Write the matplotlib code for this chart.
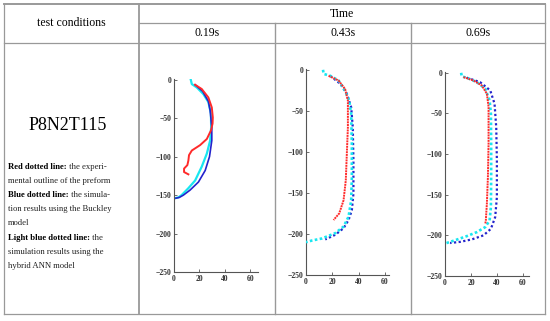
import matplotlib
matplotlib.use('Agg')
import matplotlib.pyplot as plt

# column headers
times = ['0.19s', '0.43s', '0.69s']
condition = 'P8N2T115'

# profile data (x = radius, y = height)
# 0.19 s
red_1_x = [16.6, 21.8, 27.0, 29.7, 30.5, 30.3, 29.0, 25.8, 20.5, 14.0, 11.8, 11.3, 10.5, 7.9, 7.9, 11.3]
red_1_y = [-6.5, -12, -23, -36, -49, -57, -66, -77, -85, -92, -98, -105, -111, -115.5, -120, -123]
blue_1_x = [16.6, 22.5, 27.0, 28.4, 29.7, 29.7, 27.9, 24.5, 19.2, 12.6, 7.4, 4.2, 1.5]
blue_1_y = [-6.5, -15, -28, -40, -62, -79, -100, -118, -133, -143.5, -150, -153, -154]
cyan_1_x = [13.2, 14.0, 17.9, 23.0, 27.0, 29.0, 29.2, 28.4, 25.8, 21.8, 16.6, 11.3, 6.0, 3.4, 0.8, 0.0]
cyan_1_y = [0, -5.6, -10, -18.5, -29, -44, -62, -79, -96, -113, -131, -141, -150, -153, -154, -154]
# 0.43 s
red_2_x = [17.1, 24.7, 29.7, 31.8, 31.8, 30.8, 30.2, 28.5, 25.2, 20.9]
red_2_y = [-7.3, -13, -23.5, -37.6, -70, -110, -134.7, -159, -175, -183]
blue_2_x = [18.4, 26.0, 31.0, 34.3, 35.5, 36.0, 36.0, 34.8, 32.3, 28.5, 22.2, 14.6]
blue_2_y = [-7.3, -17, -29, -45.7, -70, -110, -151, -171, -183, -193, -201, -206.7]
cyan_2_x = [12.9, 13.4, 18.4, 24.7, 29.7, 32.8, 34.3, 34.8, 34.8, 34.3, 32.3, 28.5, 22.2, 12.1, 4.5, 0.0]
cyan_2_y = [0, -5, -7.3, -13, -25.5, -37.6, -53.8, -90, -130.7, -159, -179, -191, -199, -205.5, -208, -210]
# 0.69 s
red_3_x = [14.2, 21.9, 28.3, 32.2, 33.5, 33.5, 33.0, 32.2, 31.4, 31.0]
red_3_y = [-5.3, -9.4, -15.6, -25.8, -42, -87, -128, -161, -181.6, -185.7]
blue_3_x = [16.7, 27.0, 34.8, 38.1, 39.4, 39.9, 39.9, 38.6, 35.3, 29.6, 20.6, 11.6, 3.9]
blue_3_y = [-6, -11.5, -21.7, -38, -67, -108, -153, -177.5, -192, -200, -205, -208, -209.4]
cyan_3_x = [12.4, 12.9, 16.7, 24.5, 31.0, 34.3, 35.3, 35.5, 35.5, 35.3, 34.3, 31.0, 24.5, 16.7, 7.7, 1.3, 0.0]
cyan_3_y = [0, -4.5, -6, -11.5, -19.7, -34, -50.4, -87, -128, -165, -181.6, -189.8, -196, -201, -206, -209.4, -210]

W, H = 550, 321
fig = plt.figure(figsize=(W / 100, H / 100), dpi=100)
fig.patch.set_facecolor('white')

# background axes in pixel coordinates for the table
ax0 = fig.add_axes([0, 0, 1, 1])
ax0.set_xlim(0, W)
ax0.set_ylim(H, 0)
ax0.axis('off')

lc = '#999999'
cols = [4, 139, 275, 411, 545]
top, mid, hdr, bot = 4, 23, 43, 314
ax0.plot([cols[0], cols[-1]], [top, top], color=lc, lw=1.4)
ax0.plot([cols[1], cols[-1]], [mid, mid], color=lc, lw=0.9)
ax0.plot([cols[0], cols[-1]], [hdr, hdr], color=lc, lw=0.9)
ax0.plot([cols[0], cols[-1]], [bot, bot], color=lc, lw=0.9)
ax0.plot([cols[0], cols[0]], [top, bot], color=lc, lw=0.9)
ax0.plot([cols[-1], cols[-1]], [top, bot], color=lc, lw=0.9)
ax0.plot([cols[1], cols[1]], [top, bot], color=lc, lw=1.3)
for c in cols[2:4]:
    ax0.plot([c, c], [mid, bot], color=lc, lw=1.0)

serif = 'Liberation Serif'
ax0.text((cols[0] + cols[1]) / 2, 23, 'test conditions', ha='center', va='center',
         fontsize=8.5, family=serif)
ax0.text((cols[1] + cols[-1]) / 2, 14, 'Time', ha='center', va='center',
         fontsize=8.5, family=serif)
for i, t in enumerate(times):
    ax0.text((cols[i + 1] + cols[i + 2]) / 2, 33, t, ha='center', va='center',
             fontsize=8.5, family=serif)

ax0.text(68, 125, condition, ha='center', va='center', fontsize=13, family=serif)

# legend description with bold lead-ins
desc = [
    ('Red dotted line:', ' the experi-'),
    ('', 'mental outline of the preform'),
    ('Blue dotted line:', ' the simula-'),
    ('', 'tion results using the Buckley'),
    ('', 'model'),
    ('Light blue dotted line:', ' the'),
    ('', 'simulation results using the'),
    ('', 'hybrid ANN model'),
]
line_y = [166.7, 180.7, 195, 209, 223.3, 237.7, 252, 266]
renderer = fig.canvas.get_renderer()
for (b, n), yy in zip(desc, line_y):
    x = 8
    if b:
        tb = ax0.text(x, yy, b, ha='left', va='center', fontsize=6.2,
                      family=serif, weight='bold')
        bb = tb.get_window_extent(renderer)
        x = ax0.transData.inverted().transform((bb.x1, bb.y0))[0]
    ax0.text(x, yy, n, ha='left', va='center', fontsize=6.2, family=serif,
             color='#222222')

red = '#ff2a2a'
blue = '#2323cc'
cyan = '#19e6f0'

panels = [
    # (left, right, top px, bottom px, xmax, data)
    (174, 258, 79, 272, 66, (red_1_x, red_1_y, blue_1_x, blue_1_y, cyan_1_x, cyan_1_y), True),
    (306, 389, 69, 275, 63, (red_2_x, red_2_y, blue_2_x, blue_2_y, cyan_2_x, cyan_2_y), False),
    (445, 529, 72, 276, 64.6, (red_3_x, red_3_y, blue_3_x, blue_3_y, cyan_3_x, cyan_3_y), False),
]

for l, r, t, b, xmax, d, solid in panels:
    ax = fig.add_axes([l / W, 1 - b / H, (r - l) / W, (b - t) / H])
    rx, ry, bx, by, cx, cy = d
    if solid:
        ax.plot(cx, cy, color=cyan, lw=1.6, zorder=2)
        ax.plot(bx, by, color=blue, lw=1.2, zorder=3)
        ax.plot(rx, ry, color=red, lw=1.4, zorder=4)
    else:
        ax.plot(bx, by, color=blue, lw=1.6, ls=(0, (1, 1.1)), zorder=2)
        ax.plot(cx, cy, color=cyan, lw=1.9, ls=(0, (1, 0.9)), zorder=3)
        ax.plot(rx, ry, color=red, lw=1.4, ls=(0, (1, 0.4)), zorder=4)
    ax.set_xlim(0, xmax)
    ax.set_ylim(-250, 1)
    ax.set_xticks([0, 20, 40, 60])
    ax.set_yticks([0, -50, -100, -150, -200, -250])
    for s in ['top', 'right']:
        ax.spines[s].set_visible(False)
    for s in ['left', 'bottom']:
        ax.spines[s].set_color('#555555')
        ax.spines[s].set_linewidth(0.8)
    ax.tick_params(direction='in', length=2, width=0.6, colors='#555555',
                   labelsize=5.5, pad=2, labelcolor='#333333')
    for lab in ax.get_xticklabels() + ax.get_yticklabels():
        lab.set_family(serif)
        lab.set_weight('bold')
    ax.patch.set_alpha(0)

fig.savefig('out.png', dpi=100)
